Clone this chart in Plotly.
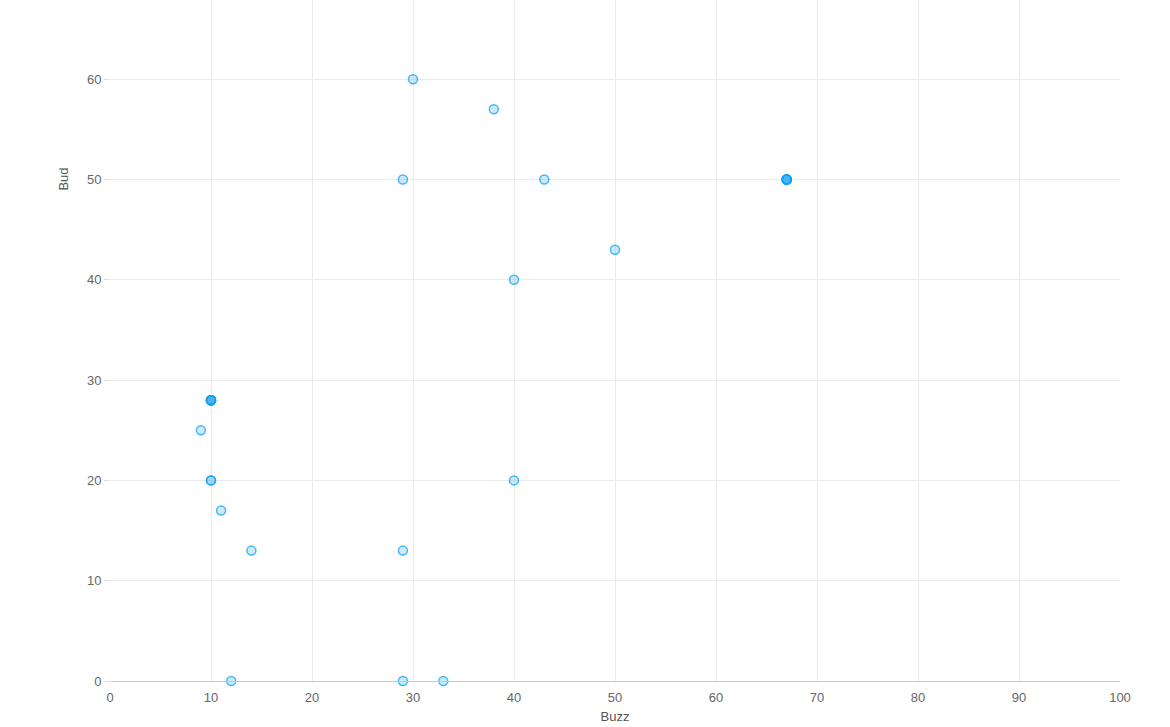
import plotly.graph_objects as go

FONT = "Liberation Sans, Arial, sans-serif"
GREY = "#666666"
GRID = "#ebebeb"

# duplicates kept as separate points; they stack into darker dots
buzz = [30, 38, 29, 43, 67, 67, 67, 67, 67, 67, 50, 40,
        10, 10, 10, 10, 10, 10, 9, 10, 10, 40, 11, 14, 29, 12, 29, 33]
bud = [60, 57, 50, 50, 50, 50, 50, 50, 50, 50, 43, 40,
       28, 28, 28, 28, 28, 28, 25, 20, 20, 20, 17, 13, 13, 0, 0, 0]

fig = go.Figure(go.Scatter(
    x=buzz, y=bud, mode="markers",
    marker=dict(size=9, color="rgba(20,160,240,0.22)",
                line=dict(color="rgba(20,160,240,0.75)", width=1.5)),
    hovertemplate="Buzz %{x}<br>Bud %{y}<extra></extra>",
    cliponaxis=False,
))

# y title sits high on the axis, next to the 50 tick
fig.add_annotation(
    text="Bud", textangle=-90, showarrow=False,
    xref="paper", x=-0.0465, xanchor="center",
    yref="y", y=50, yanchor="middle",
    font=dict(size=13, color="#555555", family=FONT),
)

fig.update_layout(
    width=1170, height=727,
    margin=dict(t=0, b=46, l=110, r=50),
    paper_bgcolor="white", plot_bgcolor="white",
    font=dict(family=FONT, color=GREY, size=13),
    showlegend=False,
    xaxis=dict(
        title=dict(text="Buzz", font=dict(size=13, color="#555555"), standoff=8),
        range=[0, 100], dtick=10, gridcolor=GRID, zeroline=False,
        showline=True, linecolor="#c8c8c8", linewidth=1,
        ticks="outside", ticklen=4, tickcolor="white",
        tickfont=dict(size=13, color=GREY),
    ),
    yaxis=dict(
        range=[0, 67.9], tickvals=[0, 10, 20, 30, 40, 50, 60],
        gridcolor=GRID, zeroline=False,
        ticks="outside", ticklen=5, tickcolor="#dddddd",
        tickfont=dict(size=13, color=GREY),
    ),
)

# drop the browser's default body margin so the chart fills the window
fig.write_html("out.html", config={"displayModeBar": False},
               post_script="document.body.style.margin='0';")
